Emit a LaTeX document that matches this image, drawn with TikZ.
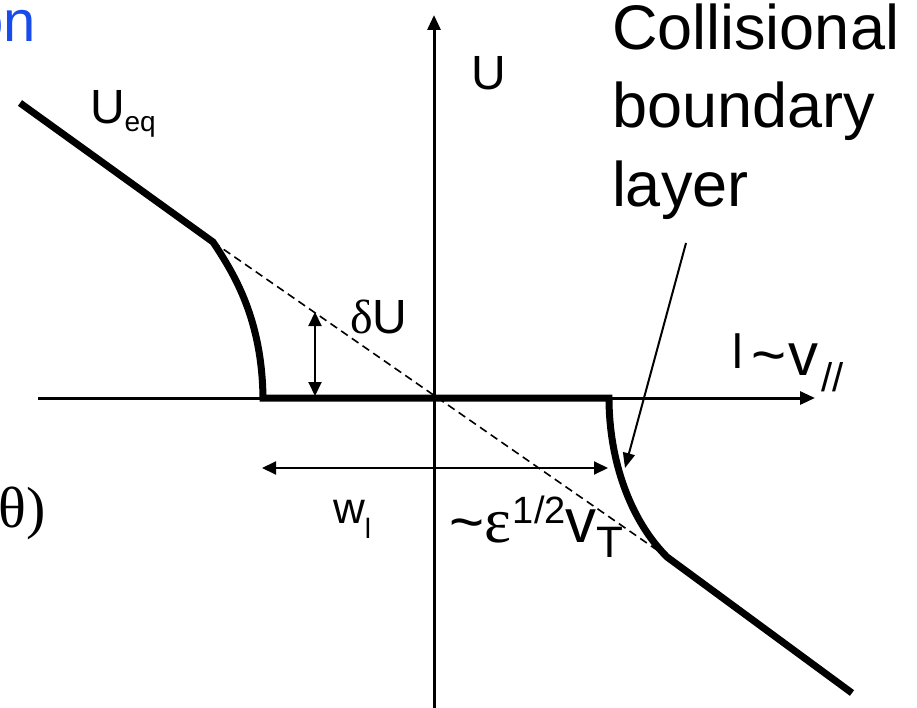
\documentclass[tikz,border=0pt]{standalone}
\usepackage{fontspec}
\setmainfont{Liberation Sans}
\newfontfamily\seriff{Liberation Serif}
\usetikzlibrary{arrows.meta}
\newcommand\fsz[1]{\fontsize{#1}{#1}\selectfont}
\definecolor{ttlblue}{RGB}{25,75,235}
\tikzset{
  axisline/.style={line width=3pt,-{Triangle[length=15pt,width=13pt]}},
  curveline/.style={line width=7pt},
  dashline/.style={line width=1.6pt,dash pattern=on 8pt off 5pt},
  dimline/.style={line width=2pt,{Triangle[length=14pt,width=13pt]}-{Triangle[length=14pt,width=13pt]}},
  ptrline/.style={line width=2pt,-{Triangle[length=15pt,width=12pt]}},
  lbl/.style={inner sep=0pt,outer sep=0pt,anchor=base west}
}
\begin{document}
\begin{tikzpicture}[x=1pt,y=-1pt]
\useasboundingbox (0,0) rectangle (917,708);
% axes
\coordinate (hl) at (38,398);
\coordinate (hr) at (815,398);
\coordinate (vb) at (434,710);
\coordinate (vt) at (434,15);
\draw[axisline] (hl) -- (hr);
\draw[axisline] (vb) -- (vt);
% thick profile
\coordinate (a1) at (20,103);
\coordinate (a2) at (213,242);
\coordinate (a3) at (263,398);
\coordinate (a4) at (609,398);
\coordinate (a5) at (667,557);
\coordinate (a6) at (852,693);
\draw[dashline] (a2) -- (a5);
\draw[curveline] (a1) -- (a2) .. controls (235,275) and (262,320) .. (a3) -- (a4)
  .. controls (609,460) and (630,520) .. (a5) -- (a6);
% dimension arrows
\coordinate (du1) at (315,312);
\coordinate (du2) at (315,396);
\draw[dimline] (du1) -- (du2);
\coordinate (wl1) at (262,468);
\coordinate (wl2) at (608,468);
\draw[dimline] (wl1) -- (wl2);
% labels
\node[lbl,anchor=base east,text=ttlblue] (ttl) at (36,42) {\fsz{58}on};
\node[lbl] (ueq) at (90,124) {\fsz{48}U\raisebox{-8pt}{\fsz{28}eq}};
\node[lbl] (uax) at (471,90) {\fsz{48}U};
\node[lbl] (du) at (350,333) {\fsz{48}{\seriff δ}U};
\node[lbl] (lv) at (732,368) {\fsz{48}l\hspace{9pt}\raisebox{-7pt}{\fsz{60}\textasciitilde\hspace{2pt}v}\hspace{3pt}\raisebox{-23pt}{\fsz{40}//}};
\node[lbl] (wl) at (333,523) {\fsz{44}w\raisebox{-15pt}{\fsz{28}l}};
\node[lbl] (eps) at (449,542) {\fsz{60}\textasciitilde{\fsz{64}\seriff ε}\hspace{2pt}\raisebox{19pt}{\fsz{38}1/2}{\fsz{62}v}\raisebox{-15pt}{\fsz{44}T}};
\node[lbl,anchor=base east] (th) at (46,527) {\fsz{58}\seriff θ)};
\node[lbl] (cbl1) at (612,50) {\fsz{63}Collisional};
\node[lbl] (cbl2) at (612,128) {\fsz{63}boundary};
\node[lbl] (cbl3) at (612,207) {\fsz{63}layer};
% pointer
\coordinate (ps) at (686,243);
\coordinate (pe) at (625,468);
\draw[ptrline] (ps) -- (pe);
\end{tikzpicture}
\end{document}
